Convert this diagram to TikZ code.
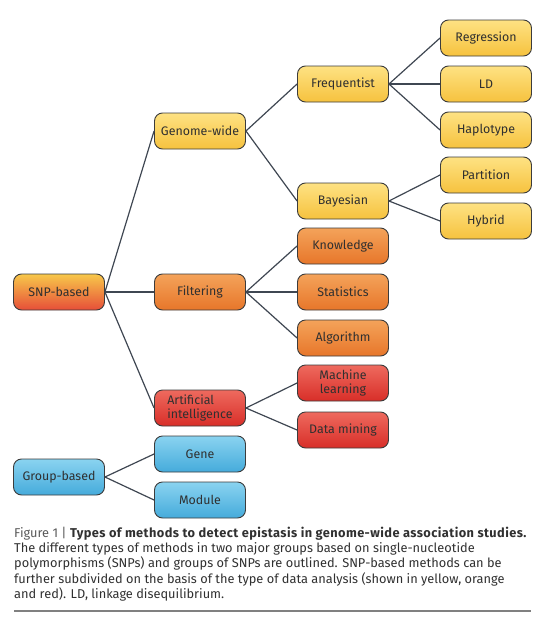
\documentclass[tikz,border=0pt]{standalone}
\usepackage{fontspec}
\setmainfont{Fira Sans}
\usepackage{tikz}
\usetikzlibrary{shapes,shadows,calc,positioning}
\definecolor{linkc}{HTML}{3F4752}
\definecolor{bordc}{HTML}{3C3C3C}
\definecolor{txtc}{HTML}{303030}
\definecolor{yelt}{HTML}{FEE283}
\definecolor{yelb}{HTML}{F6C23E}
\definecolor{orat}{HTML}{F4A35A}
\definecolor{orab}{HTML}{E7762A}
\definecolor{redt}{HTML}{EE6A5E}
\definecolor{redb}{HTML}{D82E28}
\definecolor{blut}{HTML}{8AD3F0}
\definecolor{blub}{HTML}{45ABDB}
\definecolor{snpt}{HTML}{F8C84A}
\definecolor{snpb}{HTML}{E64E38}
\tikzset{box/.style={rectangle,rounded corners=8pt,draw=bordc,line width=0.9pt,minimum width=91pt,minimum height=36pt,inner sep=1pt,align=center,text=txtc,font=\fontsize{12.4}{13.6}\selectfont}}
\tikzset{boxy/.style={box,top color=yelt,bottom color=yelb}}
\tikzset{boxo/.style={box,top color=orat,bottom color=orab}}
\tikzset{boxr/.style={box,top color=redt,bottom color=redb}}
\tikzset{boxb/.style={box,top color=blut,bottom color=blub}}
\tikzset{boxs/.style={box,top color=snpt,bottom color=snpb}}
\tikzset{lnk/.style={draw=linkc,line width=1.2pt}}

\begin{document}
\begin{tikzpicture}[x=1pt,y=-1pt]
\useasboundingbox (0,0) rectangle (548,621);
\node [boxs] at (59,292) (snp) {SNP-based};
\node [boxb] at (59,477) (grp) {Group-based};

\node [boxy] at (200,131) (gw) {Genome-wide};
\node [boxo] at (200,292) (filt) {Filtering};
\node [boxr,align=left] at (200,408) (ai) {Artificial\\intelligence};
\node [boxb] at (200,454) (gene) {Gene};
\node [boxb] at (200,500) (mod) {Module};

\node [boxy] at (343,84) (freq) {Frequentist};
\node [boxy] at (343,201) (bay) {Bayesian};
\node [boxo] at (343,246) (know) {Knowledge};
\node [boxo] at (343,292) (stat) {Statistics};
\node [boxo] at (343,338) (algo) {Algorithm};
\node [boxr] at (343,383) (ml) {Machine\\learning};
\node [boxr] at (343,430) (dm) {Data mining};

\node [boxy] at (486,38) (reg) {Regression};
\node [boxy] at (486,84) (ld) {LD};
\node [boxy] at (486,130) (hap) {Haplotype};
\node [boxy] at (486,175) (part) {Partition};
\node [boxy] at (486,221) (hyb) {Hybrid};

% links
\draw [lnk] (snp.east) -- (gw.west);
\draw [lnk] (snp.east) -- (filt.west);
\draw [lnk] (snp.east) -- (ai.west);
\draw [lnk] (gw.east) -- (freq.west);
\draw [lnk] (gw.east) -- (bay.west);
\draw [lnk] (freq.east) -- (reg.west);
\draw [lnk] (freq.east) -- (ld.west);
\draw [lnk] (freq.east) -- (hap.west);
\draw [lnk] (bay.east) -- (part.west);
\draw [lnk] (bay.east) -- (hyb.west);
\draw [lnk] (filt.east) -- (know.west);
\draw [lnk] (filt.east) -- (stat.west);
\draw [lnk] (filt.east) -- (algo.west);
\draw [lnk] (ai.east) -- (ml.west);
\draw [lnk] (ai.east) -- (dm.west);
\draw [lnk] (grp.east) -- (gene.west);
\draw [lnk] (grp.east) -- (mod.west);

% caption
\node [anchor=north west,inner sep=0pt,align=left,text=txtc,font=\fontsize{12.8}{15.2}\selectfont] at (14,527) (cap)
{{\color{black!65}Figure 1 |} {\bfseries\addfontfeatures{LetterSpace=3.3}Types of methods to detect epistasis in genome-wide association studies.}\\
The different types of methods in two major groups based on single-nucleotide\\
polymorphisms (SNPs) and groups of SNPs are outlined. SNP-based methods can be\\
further subdivided on the basis of the type of data analysis (shown in yellow, orange\\
and red). LD, linkage disequilibrium.};
\coordinate (rl) at (14,611);
\coordinate (rr) at (531,611);
\draw [black!50,line width=2pt] (rl) -- (rr);
\end{tikzpicture}
\end{document}
